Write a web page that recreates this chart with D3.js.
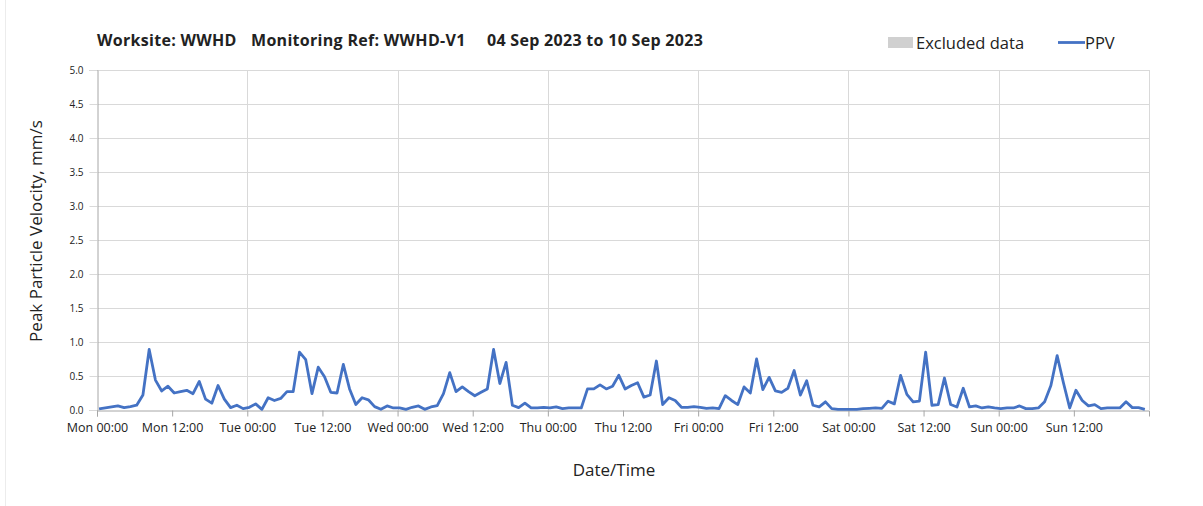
<!DOCTYPE html>
<html>
<head>
<meta charset="utf-8">
<script src="https://cdn.jsdelivr.net/npm/d3@7"></script>
<style>
  body { margin: 0; background: #fff; }
  text { font-family: "Open Sans", "DejaVu Sans", sans-serif; fill: #222; }
</style>
</head>
<body>
<svg width="1203" height="506"></svg>
<script>
// chart data
var titleParts = ["Worksite: WWHD", "Monitoring Ref: WWHD-V1", "04 Sep 2023 to 10 Sep 2023"];
var startTime = new Date(2023, 8, 4, 0, 0);
var endTime = new Date(2023, 8, 11, 0, 0);
var firstReading = new Date(2023, 8, 4, 0, 20);
var stepMinutes = 60;
var ppv = [
  0.015, 0.03, 0.045, 0.06, 0.035, 0.05, 0.07, 0.22, 0.89, 0.44, 0.28, 0.35,
  0.25, 0.27, 0.29, 0.24, 0.42, 0.16, 0.10, 0.36, 0.16, 0.035, 0.07, 0.02,
  0.04, 0.09, 0.01, 0.18, 0.14, 0.17, 0.27, 0.27, 0.85, 0.74, 0.24, 0.63,
  0.49, 0.26, 0.25, 0.67, 0.31, 0.08, 0.18, 0.15, 0.05, 0.01, 0.06, 0.03,
  0.03, 0.01, 0.04, 0.06, 0.01, 0.045, 0.065, 0.24, 0.55, 0.27, 0.34, 0.27,
  0.21, 0.26, 0.31, 0.89, 0.39, 0.70, 0.07, 0.035, 0.10, 0.03, 0.03, 0.04,
  0.03, 0.045, 0.02, 0.03, 0.03, 0.03, 0.31, 0.31, 0.37, 0.31, 0.35, 0.51,
  0.31, 0.36, 0.40, 0.19, 0.22, 0.72, 0.08, 0.18, 0.14, 0.04, 0.04, 0.05,
  0.04, 0.025, 0.03, 0.02, 0.21, 0.14, 0.08, 0.34, 0.25, 0.75, 0.30, 0.48,
  0.28, 0.26, 0.32, 0.58, 0.22, 0.43, 0.07, 0.045, 0.12, 0.02, 0.01, 0.01,
  0.01, 0.01, 0.02, 0.025, 0.03, 0.025, 0.13, 0.09, 0.51, 0.23, 0.12, 0.13,
  0.85, 0.07, 0.08, 0.47, 0.08, 0.045, 0.32, 0.045, 0.06, 0.03, 0.045, 0.03,
  0.02, 0.03, 0.03, 0.06, 0.02, 0.02, 0.03, 0.12, 0.36, 0.80, 0.40, 0.03,
  0.29, 0.14, 0.06, 0.08, 0.02, 0.03, 0.03, 0.03, 0.12, 0.035, 0.035, 0.01
];
var tickHours = [0, 12, 24, 36, 48, 60, 72, 84, 96, 108, 120, 132, 144, 156];
var tickLabels = ["Mon 00:00", "Mon 12:00", "Tue 00:00", "Tue 12:00", "Wed 00:00", "Wed 12:00",
  "Thu 00:00", "Thu 12:00", "Fri 00:00", "Fri 12:00", "Sat 00:00", "Sat 12:00",
  "Sun 00:00", "Sun 12:00"];
var yTicks = [0, 0.5, 1, 1.5, 2, 2.5, 3, 3.5, 4, 4.5, 5];
var legendItems = ["Excluded data", "PPV"];

var data = ppv.map(function(v, i){
    return {t: d3.timeMinute.offset(firstReading, i * stepMinutes), v: v};
});
var tickDates = tickHours.map(function(h){ return d3.timeHour.offset(startTime, h); });
var dayLines = d3.timeDay.range(startTime, d3.timeDay.offset(endTime, 1));

let svg = d3.select("svg"),
    marge = {top: 70, bottom: 96, left: 97, right: 54};
let width = 1203, height = 506;

var x = d3.scaleTime().domain([startTime, endTime]).range([marge.left, width - marge.right]);
var y = d3.scaleLinear().domain([0, 5]).range([height - marge.bottom, marge.top]);

// faint frame line on left edge
svg.append("line")
    .attr("x1", 5.5).attr("x2", 5.5).attr("y1", 0).attr("y2", height)
    .attr("stroke", "#ececec");

// horizontal grid
svg.append("g").selectAll("line")
    .data(yTicks.slice(1))
    .enter().append("line")
    .attr("x1", marge.left).attr("x2", width - marge.right)
    .attr("y1", function(d){ return Math.round(y(d)) + 0.5; })
    .attr("y2", function(d){ return Math.round(y(d)) + 0.5; })
    .attr("stroke", "#d9d9d9");

// vertical grid at midnight
svg.append("g").selectAll("line")
    .data(dayLines.slice(1))
    .enter().append("line")
    .attr("x1", function(d){ return Math.round(x(d)) + 0.5; })
    .attr("x2", function(d){ return Math.round(x(d)) + 0.5; })
    .attr("y1", marge.top).attr("y2", height - marge.bottom)
    .attr("stroke", "#d9d9d9");

// y axis
var yAxis = svg.append("g")
    .attr("transform", "translate(" + (marge.left + 0.5) + ",0)")
    .call(d3.axisLeft(y).tickValues(yTicks).tickFormat(d3.format(".1f")).tickSize(8).tickPadding(6));
yAxis.select(".domain").attr("stroke", "#a6a6a6");
yAxis.selectAll(".tick line").attr("stroke", "#d9d9d9");
yAxis.selectAll(".tick text").style("font-size", "10px").attr("fill", "#333");

// x axis
var xAxis = svg.append("g")
    .attr("transform", "translate(0," + (height - marge.bottom + 0.5) + ")")
    .call(d3.axisBottom(x).tickValues(tickDates)
        .tickFormat(function(d, i){ return tickLabels[i]; })
        .tickSize(6).tickPadding(7));
xAxis.select(".domain").attr("stroke", "#a6a6a6");
xAxis.selectAll(".tick line").attr("stroke", "#a6a6a6");
xAxis.selectAll(".tick text").style("font-size", "12.5px").attr("fill", "#222");

// PPV line
var line = d3.line()
    .x(function(d){ return x(d.t); })
    .y(function(d){ return y(d.v); });
svg.append("path")
    .datum(data)
    .attr("d", line)
    .attr("fill", "none")
    .attr("stroke", "#4472c4")
    .attr("stroke-width", 2.8)
    .attr("stroke-linejoin", "round");

// title, three parts
var titleX = [97, 251, 487];
svg.append("g").selectAll("text")
    .data(titleParts)
    .enter().append("text")
    .attr("x", function(d, i){ return titleX[i]; })
    .attr("y", 46)
    .style("font-size", "16px").style("font-weight", "bold")
    .style("letter-spacing", "0.3px")
    .text(function(d){ return d; });

// legend
svg.append("rect")
    .attr("x", 888).attr("y", 37).attr("width", 25).attr("height", 11)
    .attr("fill", "#d0d0d0");
svg.append("text")
    .attr("x", 916).attr("y", 49)
    .style("font-size", "16.5px")
    .text(legendItems[0]);
svg.append("line")
    .attr("x1", 1058).attr("x2", 1085).attr("y1", 42.5).attr("y2", 42.5)
    .attr("stroke", "#4472c4").attr("stroke-width", 2.8);
svg.append("text")
    .attr("x", 1085).attr("y", 49)
    .style("font-size", "16.5px")
    .text(legendItems[1]);

// axis titles
svg.append("text")
    .attr("transform", "translate(42," + 231 + ") rotate(-90)")
    .attr("text-anchor", "middle")
    .style("font-size", "17px")
    .text("Peak Particle Velocity, mm/s");
svg.append("text")
    .attr("x", 614).attr("y", 476)
    .attr("text-anchor", "middle")
    .style("font-size", "17px")
    .text("Date/Time");
</script>
</body>
</html>
